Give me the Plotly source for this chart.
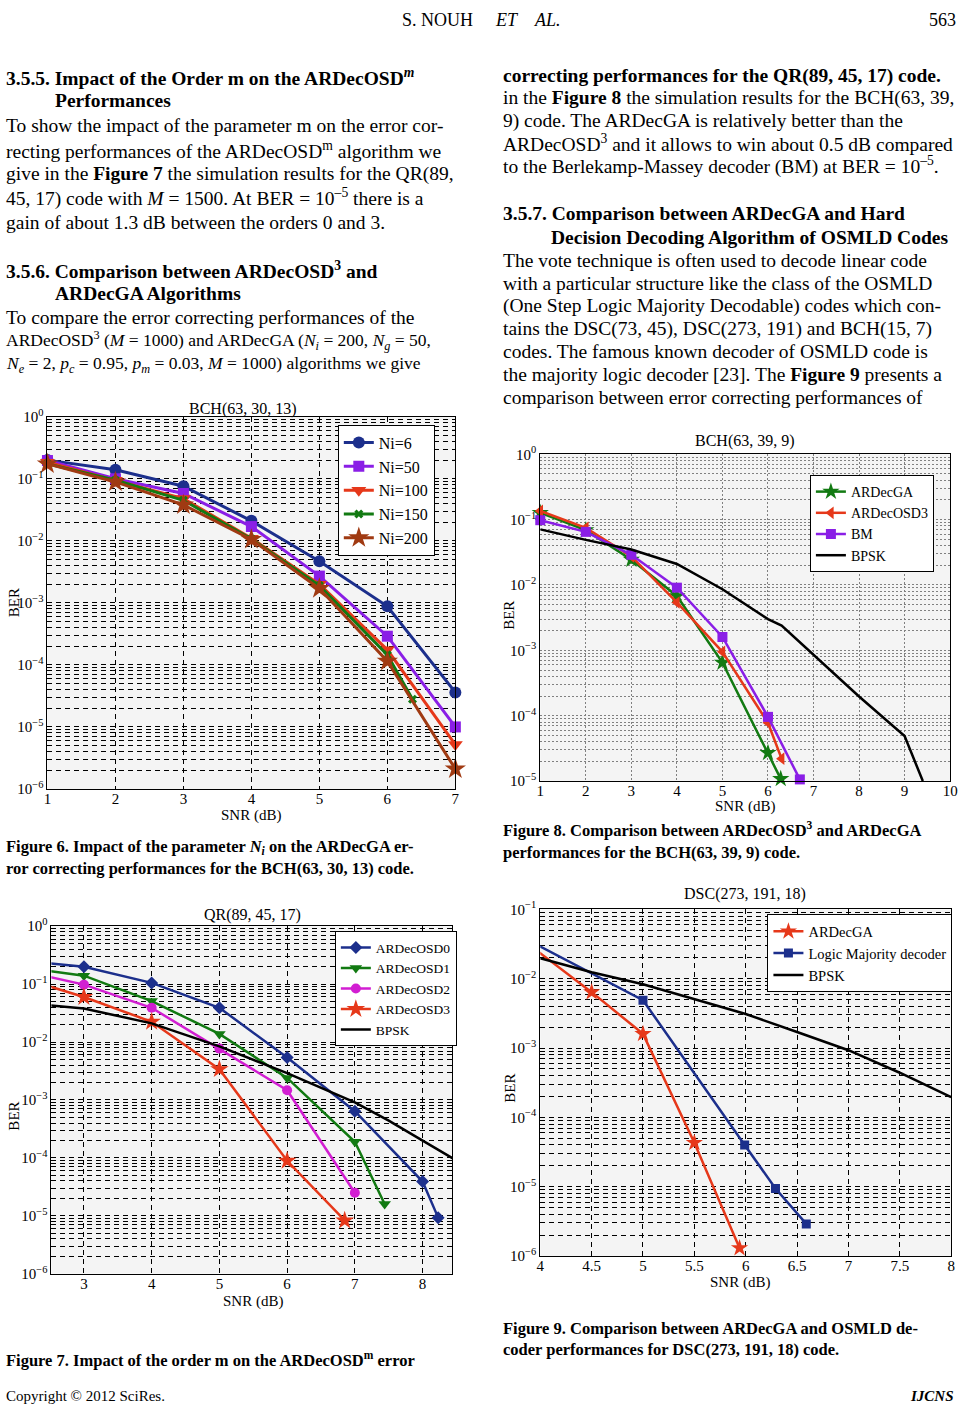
import plotly.graph_objects as go

W, H = 969, 1415
SERIF = "Liberation Serif"

# ---------------- data ----------------
# Figure 6 : BCH(63, 30, 13)
f6_snr = [1, 2, 3, 4, 5, 6, 7]
f6_ni6 = [0.20, 0.14, 0.076, 0.021, 0.0047, 8.8e-4, 3.6e-5]
f6_ni50 = [0.197, 0.10, 0.058, 0.017, 2.7e-3, 2.9e-4, 1.0e-5]
f6_ni100 = [0.185, 0.095, 0.048, 0.011, 2.0e-3, 1.75e-4, 5.2e-6]
f6_ni150_snr = [1, 2, 3, 4, 5, 6, 6.37]
f6_ni150 = [0.174, 0.095, 0.045, 0.0107, 1.9e-3, 1.45e-4, 2.8e-5]
f6_ni200 = [0.174, 0.089, 0.038, 0.0105, 1.7e-3, 1.15e-4, 2.1e-6]
f6_xticks = [1, 2, 3, 4, 5, 6, 7]
f6_yticks = [1e-6, 1e-5, 1e-4, 1e-3, 1e-2, 1e-1, 1]
f6_ylabels = ["10<sup>−6</sup>", "10<sup>−5</sup>", "10<sup>−4</sup>", "10<sup>−3</sup>",
              "10<sup>−2</sup>", "10<sup>−1</sup>", "10<sup>0</sup>"]

# Figure 7 : QR(89, 45, 17)
f7_osd0_snr = [2, 3, 4, 5, 6, 7, 8, 8.23]
f7_osd0 = [0.26, 0.20, 0.105, 0.039, 5.4e-3, 6.4e-4, 3.9e-5, 9.3e-6]
f7_osd1_snr = [2, 3, 4, 5, 6, 7, 7.44]
f7_osd1 = [0.20, 0.14, 0.051, 0.0138, 2.4e-3, 1.9e-4, 1.6e-5]
f7_osd2_snr = [2, 3, 4, 5, 6, 7]
f7_osd2 = [0.18, 0.098, 0.039, 7.7e-3, 1.47e-3, 2.5e-5]
f7_osd3_snr = [2, 3, 4, 5, 6, 6.85]
f7_osd3 = [0.137, 0.06, 0.0224, 3.4e-3, 8.9e-5, 8.3e-6]
f7_bpsk_snr = [2.5, 3, 4, 5, 6, 7, 7.5, 8, 8.5]
f7_bpsk = [0.043, 0.038, 0.021, 8.4e-3, 2.9e-3, 9.1e-4, 4.4e-4, 2.0e-4, 9.0e-5]
f7_xticks = [3, 4, 5, 6, 7, 8]
f7_yticks = f6_yticks
f7_ylabels = f6_ylabels

# Figure 8 : BCH(63, 39, 9)
f8_ga_snr = [1, 2, 3, 4, 5, 6, 6.28]
f8_ga = [0.127, 0.069, 0.0244, 6.8e-3, 6.5e-4, 2.7e-5, 1.08e-5]
f8_osd3_snr = [1, 2, 3, 4, 5, 6, 6.3]
f8_osd3 = [0.136, 0.075, 0.0274, 5.4e-3, 9.5e-4, 7.8e-5, 2.2e-5]
f8_bm_snr = [1, 2, 3, 4, 5, 6, 6.7]
f8_bm = [0.098, 0.065, 0.029, 9.1e-3, 1.6e-3, 9.6e-5, 1.06e-5]
f8_bpsk_snr = [1, 2, 3, 4, 5, 6, 6.3, 7, 8, 9, 9.4]
f8_bpsk = [0.071, 0.049, 0.035, 0.021, 8.6e-3, 3.0e-3, 2.4e-3, 8.7e-4, 1.97e-4, 4.9e-5, 1.0e-5]
f8_xticks = [1, 2, 3, 4, 5, 6, 7, 8, 9, 10]
f8_yticks = [1e-5, 1e-4, 1e-3, 1e-2, 1e-1, 1]
f8_ylabels = ["10<sup>−5</sup>", "10<sup>−4</sup>", "10<sup>−3</sup>",
              "10<sup>−2</sup>", "10<sup>−1</sup>", "10<sup>0</sup>"]

# Figure 9 : DSC(273, 191, 18)
f9_ga_snr = [3.5, 4.5, 5, 5.5, 5.94]
f9_ga = [0.085, 6.4e-3, 1.6e-3, 4.3e-5, 1.3e-6]
f9_lm_snr = [3.5, 5, 5.99, 6.29, 6.59]
f9_lm = [0.071, 4.9e-3, 4.0e-5, 9.4e-6, 2.9e-6]
f9_bpsk_snr = [4, 4.5, 5, 5.5, 6, 6.5, 7, 7.5, 8]
f9_bpsk = [0.0198, 0.0124, 8.3e-3, 5.1e-3, 3.1e-3, 1.7e-3, 9.3e-4, 4.4e-4, 1.96e-4]
f9_xticks = [4, 4.5, 5, 5.5, 6, 6.5, 7, 7.5, 8]
f9_xlabels = ["4", "4.5", "5", "5.5", "6", "6.5", "7", "7.5", "8"]
f9_yticks = [1e-6, 1e-5, 1e-4, 1e-3, 1e-2, 1e-1]
f9_ylabels = ["10<sup>−6</sup>", "10<sup>−5</sup>", "10<sup>−4</sup>", "10<sup>−3</sup>",
              "10<sup>−2</sup>", "10<sup>−1</sup>"]

# ---------------- colours ----------------
BLUE = "#1c2f8c"
PURPLE = "#8a1ee6"
RED = "#e6381a"
GREEN = "#127a12"
BROWN = "#a03a12"
MAGENTA = "#d21ed2"
BLACK = "#000000"


def pxx(p):
    return p / W


def pxy(p):
    return 1 - p / H


def minor_vals(lo, hi):
    return [k * 10 ** e for e in range(lo, hi) for k in range(2, 10)]


fig = go.Figure()


def add(x, y, name, color, symbol, size, xa, ya, leg, width=3, clip=True, mode="lines+markers"):
    fig.add_trace(go.Scatter(
        x=x, y=y, name=name, mode=mode, xaxis=xa, yaxis=ya, legend=leg,
        legendgroup=name + xa, cliponaxis=clip,
        line=dict(color=color, width=width),
        marker=dict(symbol=symbol, size=size, color=color, line=dict(width=0)),
    ))


# Figure 6
add(f6_snr, f6_ni6, "Ni=6", BLUE, "circle", 12, "x", "y", "legend", clip=False)
add(f6_snr, f6_ni50, "Ni=50", PURPLE, "square", 11, "x", "y", "legend", clip=False)
add(f6_snr, f6_ni100, "Ni=100", RED, "triangle-down", 13, "x", "y", "legend", clip=False)
add(f6_ni150_snr, f6_ni150, "Ni=150", GREEN, "x", 8, "x", "y", "legend", clip=False)
add(f6_snr, f6_ni200, "Ni=200", BROWN, "star", 16, "x", "y", "legend", clip=False)

# Figure 7
add(f7_osd0_snr, f7_osd0, "ARDecOSD0", BLUE, "diamond", 10, "x2", "y2", "legend2", width=2.5)
add(f7_osd1_snr, f7_osd1, "ARDecOSD1", GREEN, "triangle-down", 11, "x2", "y2", "legend2", width=2.5)
add(f7_osd2_snr, f7_osd2, "ARDecOSD2", MAGENTA, "circle", 10, "x2", "y2", "legend2", width=2.5)
add(f7_osd3_snr, f7_osd3, "ARDecOSD3", RED, "star", 14, "x2", "y2", "legend2", width=2.5)
add(f7_bpsk_snr, f7_bpsk, "BPSK", BLACK, "circle", 1, "x2", "y2", "legend2", width=2.5, mode="lines")

# Figure 8
add(f8_ga_snr, f8_ga, "ARDecGA", GREEN, "star", 13, "x3", "y3", "legend3", width=2.5, clip=False)
add(f8_osd3_snr, f8_osd3, "ARDecOSD3", RED, "triangle-left", 11, "x3", "y3", "legend3", width=2.5, clip=False)
add(f8_bm_snr, f8_bm, "BM", PURPLE, "square", 10, "x3", "y3", "legend3", width=2.5, clip=False)
add(f8_bpsk_snr, f8_bpsk, "BPSK", BLACK, "circle", 1, "x3", "y3", "legend3", width=2.5, mode="lines")

# Figure 9
add(f9_ga_snr, f9_ga, "ARDecGA", RED, "star", 13, "x4", "y4", "legend4", width=2.5)
add(f9_lm_snr, f9_lm, "Logic Majority decoder", BLUE, "square", 9, "x4", "y4", "legend4", width=2.5)
add(f9_bpsk_snr, f9_bpsk, "BPSK", BLACK, "circle", 1, "x4", "y4", "legend4", width=2.5, mode="lines")

DASH = "5px,4px"
DOT = "2px,2px"


def xaxis(dom, rng, vals, anchor, labels=None, dotted=False):
    d = dict(domain=[pxx(dom[0]), pxx(dom[1])], range=rng, anchor=anchor,
             tickmode="array", tickvals=vals, showgrid=True,
             gridcolor="#808080" if dotted else BLACK, griddash=DOT if dotted else DASH,
             gridwidth=1, showline=True, mirror=True, linecolor=BLACK, linewidth=1,
             ticks="", zeroline=False, ticklabelstandoff=-4,
             tickfont=dict(family=SERIF, size=15, color=BLACK))
    if labels is not None:
        d["ticktext"] = labels
    return d


def yaxis(dom, rng, vals, labels, anchor, dotted=False):
    return dict(domain=[pxy(dom[1]), pxy(dom[0])], type="log", range=rng, anchor=anchor,
                tickmode="array", tickvals=vals, ticktext=labels, showgrid=True,
                gridcolor="#808080" if dotted else BLACK, griddash=DOT if dotted else DASH,
                gridwidth=1, showline=True, mirror=True, linecolor=BLACK, linewidth=1,
                ticks="", zeroline=False,
                tickfont=dict(family=SERIF, size=15, color=BLACK),
                minor=dict(tickvals=minor_vals(int(rng[0]), int(rng[1])), showgrid=True,
                           gridcolor="#808080" if dotted else BLACK,
                           griddash=DOT if dotted else DASH, gridwidth=1, ticks=""))


def legend(x, y, size):
    return dict(x=pxx(x), y=pxy(y), xanchor="left", yanchor="top", xref="paper", yref="paper",
                bgcolor="white", bordercolor=BLACK, borderwidth=1, tracegroupgap=0,
                font=dict(family=SERIF, size=size, color=BLACK), itemwidth=30)


fig.update_layout(
    width=W, height=H, margin=dict(l=0, r=0, t=0, b=0),
    paper_bgcolor="white", plot_bgcolor="#f4f4f4",
    font=dict(family=SERIF, color=BLACK),
    xaxis=xaxis((44, 457), [1, 7], f6_xticks, "y"),
    yaxis=yaxis((412, 789), [-6, 0], f6_yticks, f6_ylabels, "x"),
    xaxis2=xaxis((48, 454), [2.52, 8.44], f7_xticks, "y2"),
    yaxis2=yaxis((928, 1280), [-6, 0], f7_yticks, f7_ylabels, "x2"),
    xaxis3=xaxis((543, 958), [1, 10], f8_xticks, "y3", dotted=True),
    yaxis3=yaxis((450, 781), [-5, 0], f8_yticks, f8_ylabels, "x3", dotted=True),
    xaxis4=xaxis((543, 959), [4, 8], f9_xticks, "y4", labels=f9_xlabels),
    yaxis4=yaxis((911, 1262), [-6, -1], f9_yticks, f9_ylabels, "x4"),
    legend=legend(338, 420, 16),
    legend2=legend(335, 933, 13.5),
    legend3=legend(816, 471, 14),
    legend4=legend(773, 916, 14.5),
    showlegend=True,
)

anns = []


def txt(x, y, s, size=19.5, anchor="left", angle=0, center_y="middle"):
    anns.append(dict(x=pxx(x), y=pxy(y), xref="paper", yref="paper", text=s, showarrow=False,
                     xanchor=anchor, yanchor=center_y, textangle=angle,
                     font=dict(family=SERIF, size=size, color=BLACK)))


BODY = 19.5
CAP = 16.5

# header
txt(477, 10, "S. NOUH", 18, "right")
txt(495, 10, "<i>ET</i>    <i>AL.</i>", 18, "left")
txt(966, 10, "563", 18, "right")

# left column text
left_lines = [
    (68, "<b>3.5.5. Impact of the Order m on the ARDecOSD<sup><i>m</i></sup></b>", 0),
    (92, "<b>Performances</b>", 50),
    (117, "To show the impact of the parameter m on the error cor-", 0),
    (142, "recting performances of the ARDecOSD<sup>m</sup> algorithm we", 0),
    (166, "give in the <b>Figure 7</b> the simulation results for the QR(89,", 0),
    (190, "45, 17) code with <i>M</i> = 1500. At BER = 10<sup>–5</sup> there is a", 0),
    (215, "gain of about 1.3 dB between the orders 0 and 3.", 0),
    (263, "<b>3.5.6. Comparison between ARDecOSD<sup>3</sup> and</b>", 0),
    (287, "<b>ARDecGA Algorithms</b>", 50),
    (311, "To compare the error correcting performances of the", 0),
    (335, "ARDecOSD<sup>3</sup> (<i>M</i> = 1000) and ARDecGA (<i>N<sub>i</sub></i> = 200, <i>N<sub>g</sub></i> = 50,", 0),
    (359, "<i>N<sub>e</sub></i> = 2, <i>p<sub>c</sub></i> = 0.95, <i>p<sub>m</sub></i> = 0.03, <i>M</i> = 1000) algorithms we give", 0),
]
for y, s, x in left_lines:
    txt(x, y, s, 17.5 if y in (335, 359) else BODY)

right_lines = [
    (67, "<b>correcting performances for the QR(89, 45, 17) code.</b>", 503),
    (89, "in the <b>Figure 8</b> the simulation results for the BCH(63, 39,", 503),
    (112, "9) code. The ARDecGA is relatively better than the", 503),
    (135, "ARDecOSD<sup>3</sup> and it allows to win about 0.5 dB compared", 503),
    (158, "to the Berlekamp-Massey decoder (BM) at BER = 10<sup>–5</sup>.", 503),
    (206, "<b>3.5.7. Comparison between ARDecGA and Hard</b>", 503),
    (230, "<b>Decision Decoding Algorithm of OSMLD Codes</b>", 552),
    (254, "The vote technique is often used to decode linear code", 503),
    (277, "with a particular structure like the class of the OSMLD", 503),
    (300, "(One Step Logic Majority Decodable) codes which con-", 503),
    (323, "tains the DSC(73, 45), DSC(273, 191) and BCH(15, 7)", 503),
    (346, "codes. The famous known decoder of OSMLD code is", 503),
    (369, "the majority logic decoder [23]. The <b>Figure 9</b> presents a", 503),
    (392, "comparison between error correcting performances of", 503),
]
for y, s, x in right_lines:
    txt(x, y, s, BODY)

# chart titles / axis titles
txt(242, 404, "BCH(63, 30, 13)", 16, "center")
txt(250, 816, "SNR (dB)", 15, "center")
txt(11, 600, "BER", 15, "center", -90)

txt(252, 917, "QR(89, 45, 17)", 16, "center")
txt(252, 1308, "SNR (dB)", 15, "center")
txt(10, 1120, "BER", 15, "center", -90)

txt(750, 437, "BCH(63, 39, 9)", 16, "center")
txt(750, 807, "SNR (dB)", 15, "center")
txt(512, 613, "BER", 15, "center", -90)

txt(750, 895, "DSC(273, 191, 18)", 16, "center")
txt(745, 1289, "SNR (dB)", 15, "center")
txt(512, 1092, "BER", 15, "center", -90)

# captions
txt(0, 848, "<b>Figure 6. Impact of the parameter <i>N<sub>i</sub></i> on the ARDecGA er-</b>", CAP)
txt(0, 870, "<b>ror correcting performances for the BCH(63, 30, 13) code.</b>", CAP)
txt(503, 830, "<b>Figure 8. Comparison between ARDecOSD<sup>3</sup> and ARDecGA</b>", CAP)
txt(503, 853, "<b>performances for the BCH(63, 39, 9) code.</b>", CAP)
txt(0, 1367, "<b>Figure 7. Impact of the order m on the ARDecOSD<sup>m</sup> error</b>", CAP)
txt(503, 1335, "<b>Figure 9. Comparison between ARDecGA and OSMLD de-</b>", CAP)
txt(503, 1357, "<b>coder performances for DSC(273, 191, 18) code.</b>", CAP)

# footer
txt(0, 1404, "Copyright © 2012 SciRes.", 15)
txt(964, 1404, "<b><i>IJCNS</i></b>", 15, "right")

fig.update_layout(annotations=anns)

fig.write_html(
    "out.html",
    config={"displayModeBar": False},
    post_script="document.body.style.margin='0px';document.body.style.overflow='hidden';",
)
